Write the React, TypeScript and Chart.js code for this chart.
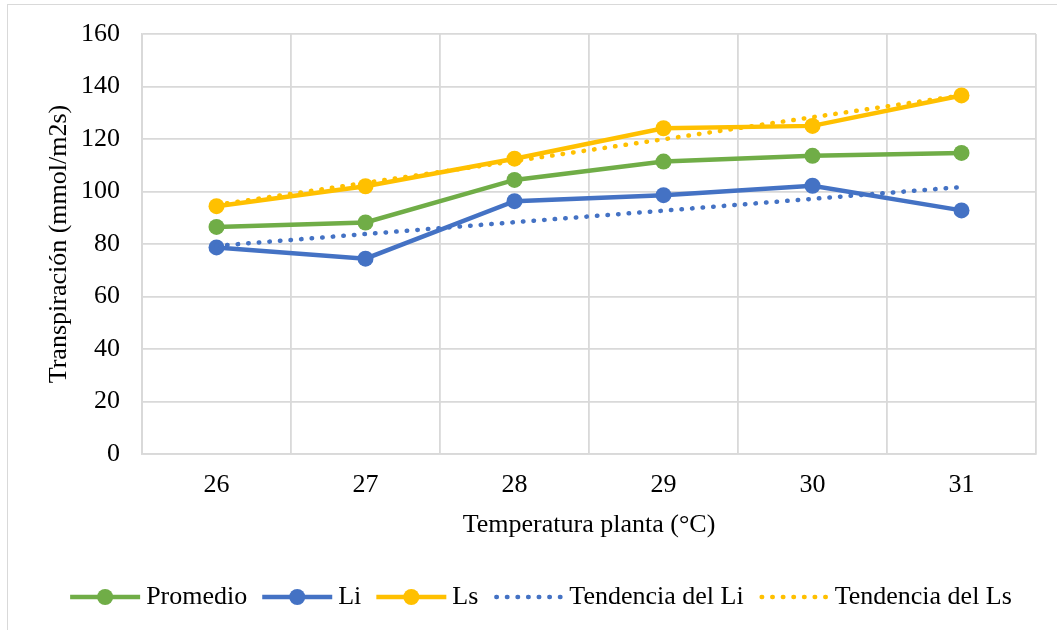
import React, { useEffect, useRef } from "react";
import { Chart, registerables } from "chart.js";

Chart.register(...registerables);

// ---- data ----
const categories = ["26", "27", "28", "29", "30", "31"];
const promedio = [86.5, 88.2, 104.4, 111.4, 113.6, 114.7];
const li = [78.7, 74.4, 96.3, 98.6, 102.2, 92.8];
const ls = [94.4, 102.0, 112.5, 124.1, 125.0, 136.6];
const tendenciaLi = [79.3, 83.8, 88.3, 92.7, 97.2, 101.7];
const tendenciaLs = [94.9, 103.3, 111.6, 119.9, 128.3, 136.6];
const seriesNames = ["Promedio", "Li", "Ls", "Tendencia del Li", "Tendencia del Ls"];
const yMin = 0;
const yMax = 160;
const yStep = 20;
const xTitle = "Temperatura planta (°C)";
const yTitle = "Transpiración (mmol/m2s)";

// ---- style ----
const FONT = "'Liberation Serif', 'Times New Roman', serif";
const FS = 26;
const GREEN = "#70AD47";
const BLUE = "#4472C4";
const GOLD = "#FFC000";
const GRID = "#d9d9d9";
const TEXT = "#000000";

const legendPlugin = {
  id: "excelLegend",
  afterDraw(chart: any) {
    const ctx = chart.ctx as CanvasRenderingContext2D;
    ctx.save();
    ctx.font = `${FS}px ${FONT}`;
    const items = chart.data.datasets.map((ds: any) => ({
      label: ds.label,
      color: ds.borderColor,
      dashed: !!(ds.borderDash && ds.borderDash.length),
      point: ds.pointRadius > 0,
    }));
    const MARK = 70;
    const GAP = 6;
    const SPACE = 15;
    const widths = items.map((it: any) => MARK + GAP + ctx.measureText(it.label).width);
    const total = widths.reduce((a: number, b: number) => a + b, 0) + SPACE * (items.length - 1);
    let x = 541 - total / 2;
    const y = 597;
    items.forEach((it: any, i: number) => {
      ctx.strokeStyle = it.color;
      ctx.lineWidth = 4.5;
      if (it.dashed) {
        ctx.lineCap = "round";
        ctx.setLineDash([0.5, 10.1]);
        ctx.beginPath();
        ctx.moveTo(x + 3, y);
        ctx.lineTo(x + MARK, y);
        ctx.stroke();
      } else {
        ctx.lineCap = "butt";
        ctx.setLineDash([]);
        ctx.beginPath();
        ctx.moveTo(x, y);
        ctx.lineTo(x + MARK, y);
        ctx.stroke();
      }
      if (it.point) {
        ctx.setLineDash([]);
        ctx.fillStyle = it.color;
        ctx.beginPath();
        ctx.arc(x + MARK / 2, y, 8, 0, Math.PI * 2);
        ctx.fill();
      }
      ctx.fillStyle = TEXT;
      ctx.textBaseline = "middle";
      ctx.textAlign = "left";
      ctx.fillText(it.label, x + MARK + GAP, y);
      x += widths[i] + SPACE;
    });
    ctx.restore();
  },
};

function solid(label: string, data: number[], color: string, order: number) {
  return {
    label,
    data,
    borderColor: color,
    backgroundColor: color,
    borderWidth: 4.5,
    pointRadius: 8,
    pointHoverRadius: 8,
    pointBackgroundColor: color,
    pointBorderWidth: 0,
    tension: 0,
    fill: false,
    order,
  };
}

function dotted(label: string, data: number[], color: string, order: number) {
  return {
    label,
    data,
    borderColor: color,
    backgroundColor: color,
    borderWidth: 4.5,
    borderDash: [0.5, 10.1],
    borderCapStyle: "round",
    pointRadius: 0,
    pointHoverRadius: 0,
    tension: 0,
    fill: false,
    order,
  };
}

export default function App() {
  const ref = useRef<HTMLCanvasElement | null>(null);

  useEffect(() => {
    if (!ref.current) return;
    const chart = new Chart(ref.current, {
      type: "line",
      data: {
        labels: categories,
        datasets: [
          solid(seriesNames[0], promedio, GREEN, 4),
          solid(seriesNames[1], li, BLUE, 3),
          solid(seriesNames[2], ls, GOLD, 2),
          dotted(seriesNames[3], tendenciaLi, BLUE, 1),
          dotted(seriesNames[4], tendenciaLs, GOLD, 0),
        ] as any,
      },
      options: {
        responsive: false,
        animation: false,
        maintainAspectRatio: false,
        layout: { padding: { top: 34, right: 21, bottom: 86, left: 0 } },
        plugins: {
          legend: { display: false },
          tooltip: { enabled: false },
          title: { display: false },
        },
        scales: {
          x: {
            type: "category",
            offset: true,
            grid: { offset: true, color: GRID, lineWidth: 1.8, drawTicks: false },
            border: { color: GRID, width: 1.8 },
            ticks: {
              color: TEXT,
              font: { family: FONT, size: FS },
              padding: 16,
              maxRotation: 0,
            },
            title: {
              display: true,
              text: xTitle,
              color: TEXT,
              font: { family: FONT, size: FS },
              padding: { top: 0, bottom: 3 },
            },
            afterFit: (s: any) => {
              s.height = 90;
              s.paddingLeft = 0;
              s.paddingRight = 0;
            },
          },
          y: {
            min: yMin,
            max: yMax,
            grid: { color: GRID, lineWidth: 1.8, drawTicks: false },
            border: { color: GRID, width: 1.8 },
            ticks: {
              stepSize: yStep,
              color: TEXT,
              font: { family: FONT, size: FS },
              padding: 22,
            },
            title: {
              display: true,
              text: yTitle,
              color: TEXT,
              font: { family: FONT, size: FS },
              padding: { top: 44, bottom: 0 },
            },
            afterFit: (s: any) => {
              s.width = 142;
              s.paddingTop = 0;
              s.paddingBottom = 0;
            },
          },
        },
      },
      plugins: [legendPlugin],
    });
    return () => chart.destroy();
  }, []);

  return (
    <div
      style={{
        position: "fixed",
        left: 0,
        top: 0,
        width: 1057,
        height: 630,
        background: "#ffffff",
        overflow: "hidden",
      }}
    >
      <div
        style={{
          position: "absolute",
          left: 7,
          top: 4,
          width: 1200,
          height: 800,
          borderTop: `1.5px solid ${GRID}`,
          borderLeft: `1.5px solid ${GRID}`,
        }}
      />
      <canvas
        ref={ref}
        width={1057}
        height={630}
        style={{ position: "absolute", left: 0, top: 0, width: 1057, height: 630 }}
      />
    </div>
  );
}
